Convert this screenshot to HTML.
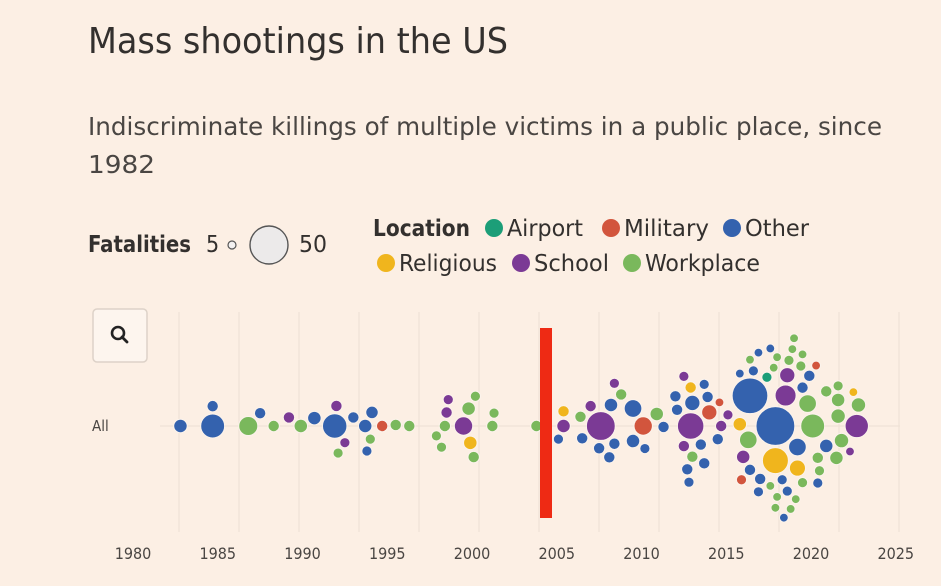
<!DOCTYPE html>
<html><head><meta charset="utf-8"><style>
html,body{margin:0;padding:0;background:#fcefe4;}
svg{display:block;font-family:"Liberation Sans Narrow","DejaVu Sans Condensed","Liberation Sans",sans-serif;}
</style></head><body>
<svg id="chart" width="941" height="586" viewBox="0 0 941 586">
<rect x="0" y="0" width="941" height="586" fill="#fcefe4"/>
<text x="88" y="53" font-size="36" fill="#33302e" textLength="420" lengthAdjust="spacingAndGlyphs">Mass shootings in the US</text>
<text x="88" y="135" font-size="25" fill="#4a4643" textLength="794" lengthAdjust="spacingAndGlyphs">Indiscriminate killings of multiple victims in a public place, since</text>
<text x="88" y="173" font-size="25" fill="#4a4643" textLength="67" lengthAdjust="spacingAndGlyphs">1982</text>
<g>
<text x="88" y="252" font-size="23" font-weight="bold" fill="#33302e" textLength="103" lengthAdjust="spacingAndGlyphs">Fatalities</text>
<text x="206" y="252" font-size="23" fill="#33302e">5</text>
<circle cx="232" cy="245" r="4" fill="#f3f1f1" stroke="#555" stroke-width="1.2"/>
<circle cx="269" cy="245" r="19" fill="#eceaea" stroke="#555" stroke-width="1.4"/>
<text x="299" y="252" font-size="23" fill="#33302e" textLength="28" lengthAdjust="spacingAndGlyphs">50</text>
</g>
<g id="colorLegend">
<text x="373" y="236" font-size="23" font-weight="bold" fill="#33302e" textLength="97" lengthAdjust="spacingAndGlyphs">Location</text>
</g>
<g>
<rect x="93" y="309" width="54" height="53" rx="4" fill="#fdf5ee" stroke="#ddd2c8" stroke-width="1.5"/>
<circle cx="118" cy="333" r="6" fill="none" stroke="#222" stroke-width="2.6"/>
<line x1="122" y1="337" x2="127" y2="342" stroke="#222" stroke-width="2.8" stroke-linecap="round"/>
</g>
<g id="grid"></g>
<text x="92" y="431" font-size="15" fill="#4a4643">All</text>
<g id="axis"></g>
<g id="dots"></g>
<rect x="540" y="328" width="12" height="190" fill="#ee2a14"/>
</svg>
<script>
const years=[1982.8,1984.7,1984.7,1986.8,1987.5,1988.3,1989.2,1989.9,1990.7,1991.9,1992.0,1993.0,1994.1,1993.7,1994.0,1992.5,1992.1,1993.8,1994.7,1995.5,1996.3,1997.9,1998.4,1998.5,1999.5,1998.2,1998.6,1999.8,2000.2,1999.9,2000.1,2001.3,2001.2,2003.8,
2005.1,2005.4,2005.4,2006.4,2007.0,2007.6,2008.4,2008.2,2006.5,2007.5,2008.1,2008.8,2008.4,2010.1,2009.5,2009.5,2010.2,2010.9,2011.3,
2012.5,2012.8,2012.5,2013.7,2013.5,2013.0,2014.0,2014.6,2012.1,2012.0,2012.9,2014.7,2015.1,2013.0,2012.9,2012.7,2013.9,2013.7,2014.5,
2015.8,2016.4,2016.9,2017.8,2016.4,2015.8,2017.9,2016.3,2016.0,2016.4,2015.9,2016.6,2016.9,2017.4,2017.0,2017.9,2019.2,2018.3,2018.6,2018.0,2017.6,2018.0,2017.6,2018.7,2019.5,2019.4,2019.1,2018.9,2018.5,2018.6,2019.5,2019.5,2018.8,2019.0,2019.2,2018.4,2017.9,2019.9,2020.3,2020.1,2019.8,2020.5,2020.9,2020.4,2020.4,
2021.6,2022.3,2021.6,2022.8,2021.6,2022.7,2021.8,2022.5,2021.5,2020.9];
const fatalities=[7,22,5,14,5,5,5,7,7,23,5,5,6,7,4,4,4,4,5,5,5,4,5,5,13,4,4,7,4,7,5,4,5,5,
4,7,5,5,5,32,5,7,5,5,5,5,4,13,12,7,4,7,5,
4,4,5,4,5,9,9,3,5,5,27,5,4,5,5,5,5,5,5,
3,3,3,3,49,7,58,12,7,5,4,4,4,4,5,26,12,4,4,3,3,3,3,4,4,4,3,3,17,9,5,3,3,3,10,3,3,5,3,22,12,4,7,4,5,
4,3,7,8,8,21,8,3,7,5];
const locations=["o","o","o","w","o","w","s","w","o","o","s","o","o","o","w","s","w","o","m","w","w","w","w","s","s","w","s","w","w","r","w","w","w","w",
"o","s","r","w","s","s","o","o","o","o","o","w","s","m","o","o","o","w","o",
"s","o","s","o","o","o","m","m","o","o","s","s","s","w","r","o","o","o","o",
"o","w","o","w","o","r","o","w","s","o","m","o","o","a","o","r","o","o","o","w","w","w","o","w","w","w","w","w","s","s","o","w","w","w","r","o","w","o","m","w","w","w","o","o","w",
"w","s","w","w","w","s","w","r","w","w"];
const locNames=["Airport","Military","Other","Religious","School","Workplace"];
const locCodes=["a","m","o","r","s","w"];
const locColors=["#1c9e78","#d2553d","#3462ae","#f0b51d","#7b3a95","#7ab85c"];
const tickYears=[1980,1985,1990,1995,2000,2005,2010,2015,2020,2025];

const NS="http://www.w3.org/2000/svg";
const x=y=>133+(y-1980)*16.95;
const r=f=>2.55*Math.sqrt(f);
const CY=426;
function mk(tag,attrs,parent){const e=document.createElementNS(NS,tag);for(const k in attrs)e.setAttribute(k,attrs[k]);parent.appendChild(e);return e;}

const grid=document.getElementById('grid');
for(let gx=179;gx<=900;gx+=60){
  const l=mk('line',{x1:gx,x2:gx,y1:312,y2:532,stroke:'#efe2d6','stroke-width':1.2},grid);
  
  
}
const hl=mk('line',{x1:160,x2:900,y1:CY,y2:CY,stroke:'#efe2d6','stroke-width':1.2},grid);



const axis=document.getElementById('axis');
tickYears.forEach(t=>{
  const tx=mk('text',{x:x(t),y:559,'font-size':16,'text-anchor':'middle',fill:'#4a4643'},axis);
  tx.textContent=t;
  
  
});

const leg=document.getElementById('colorLegend');
const legPos=[[490,228],[607,228],[728,228],[382,263],[517,263],[628,263]];
const legWidths=[76,85,64,98,75,115];
locNames.forEach((n,i)=>{
  const [lx,ly]=legPos[i];
  const c=mk('circle',{cx:lx+4,cy:ly,r:9,fill:locColors[i]},leg);
  
  
  const t=mk('text',{x:lx+17,y:ly+8,'font-size':23,fill:'#33302e',textLength:legWidths[i],lengthAdjust:'spacingAndGlyphs'},leg);
  t.textContent=n;
  
  
});

const items=years.map((yv,i)=>({i,x:x(yv),r:r(fatalities[i]),loc:locations[i]||'o'}));
const order=items.slice().sort((a,b)=>b.r-a.r);
const placed=[];const pad=2.2;
order.forEach(it=>{
  const cands=[0];
  placed.forEach(p=>{
    const d=it.r+p.r+pad, dx=it.x-p.x;
    if(Math.abs(dx)<d){const h=Math.sqrt(d*d-dx*dx);cands.push(p.y-h,p.y+h);}
  });
  cands.sort((a,b)=>Math.abs(a)-Math.abs(b));
  it.y=0;
  for(const c of cands){
    let ok=true;
    for(const p of placed){const d=it.r+p.r+pad-0.01;const dx=it.x-p.x,dy=c-p.y;if(dx*dx+dy*dy<d*d){ok=false;break;}}
    if(ok){it.y=c;break;}
  }
  placed.push(it);
});
const dots=document.getElementById('dots');
items.forEach(it=>{
  const ci=locCodes.indexOf(it.loc);
  const c=mk('circle',{cx:it.x,cy:CY+it.y,r:it.r,fill:locColors[ci<0?2:ci],stroke:'#fbf3ec','stroke-width':1},dots);
  
  
});
</script>
</body></html>
